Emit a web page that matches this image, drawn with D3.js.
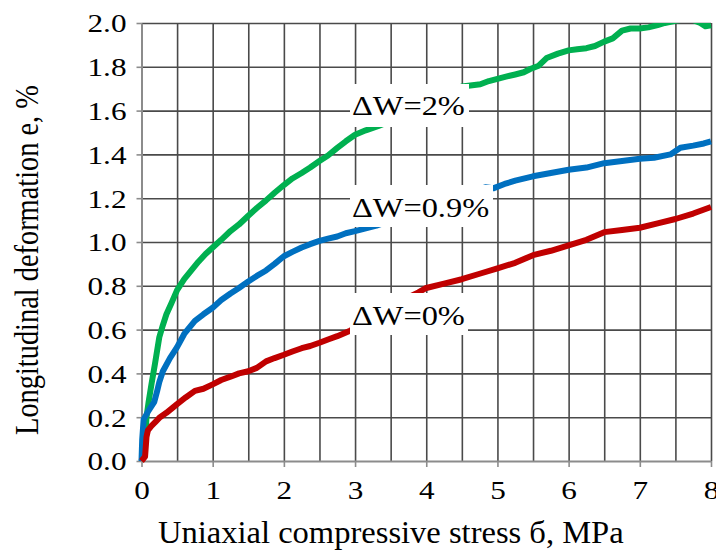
<!DOCTYPE html>
<html>
<head>
<meta charset="utf-8">
<script src="https://cdn.jsdelivr.net/npm/d3@7"></script>
</head>
<body style="margin:0">
<svg id="chart" width="716" height="550" font-family="Liberation Serif" style="display:block"></svg>
<script>
//Axis ticks
const xTicks = [0, 1, 2, 3, 4, 5, 6, 7, 8];
const yTicks = [0.0, 0.2, 0.4, 0.6, 0.8, 1.0, 1.2, 1.4, 1.6, 1.8, 2.0];
const xGridTicks = [0.5, 1, 1.5, 2, 2.5, 3, 3.5, 4, 4.5, 5, 5.5, 6, 6.5, 7, 7.5, 8];

//Curve labels
const seriesNames = ["ΔW=2%", "ΔW=0.9%", "ΔW=0%"];

//ΔW=2% (stress MPa / deformation %)
const stress2 = [0, 0.03, 0.05, 0.07, 0.1, 0.14, 0.19, 0.25, 0.3, 0.35, 0.42, 0.5, 0.6, 0.7, 0.8, 0.9, 1.0, 1.12, 1.25, 1.37, 1.5, 1.62, 1.75, 1.87, 2.0, 2.12, 2.25, 2.37, 2.5, 2.62, 2.75, 2.87, 3.0, 3.15, 3.33, 3.7, 4.0, 4.3, 4.5, 4.62, 4.76, 4.88, 5.0, 5.12, 5.25, 5.37, 5.46, 5.58, 5.69, 5.85, 6.0, 6.12, 6.25, 6.37, 6.5, 6.62, 6.75, 6.87, 7.0, 7.12, 7.25, 7.35, 7.5, 7.7, 7.85, 7.92, 8.0];
const strain2 = [0, 0.03, 0.08, 0.2, 0.27, 0.35, 0.445, 0.565, 0.62, 0.67, 0.72, 0.78, 0.83, 0.87, 0.91, 0.945, 0.975, 1.01, 1.05, 1.08, 1.12, 1.155, 1.19, 1.225, 1.26, 1.29, 1.315, 1.34, 1.37, 1.395, 1.43, 1.46, 1.49, 1.51, 1.53, 1.58, 1.63, 1.68, 1.71, 1.715, 1.72, 1.735, 1.745, 1.755, 1.765, 1.775, 1.79, 1.805, 1.84, 1.86, 1.875, 1.88, 1.885, 1.895, 1.915, 1.93, 1.965, 1.975, 1.975, 1.98, 1.99, 2.0, 2.01, 2.02, 2.0, 1.985, 1.99];

//ΔW=0.9%
const stress09 = [0, 0.01, 0.03, 0.1, 0.18, 0.22, 0.25, 0.3, 0.4, 0.5, 0.6, 0.75, 0.87, 1.0, 1.12, 1.25, 1.37, 1.5, 1.62, 1.75, 1.87, 2.0, 2.12, 2.25, 2.37, 2.5, 2.62, 2.75, 2.87, 3.0, 3.3, 3.6, 4.0, 4.4, 4.83, 4.94, 5.1, 5.25, 5.5, 5.75, 6.0, 6.25, 6.5, 6.75, 7.0, 7.2, 7.43, 7.57, 7.75, 7.9, 8.0];
const strain09 = [0, 0.1, 0.19, 0.23, 0.27, 0.32, 0.36, 0.41, 0.47, 0.52, 0.58, 0.64, 0.67, 0.70, 0.735, 0.765, 0.79, 0.82, 0.845, 0.87, 0.9, 0.935, 0.955, 0.975, 0.99, 1.005, 1.015, 1.025, 1.04, 1.05, 1.075, 1.11, 1.15, 1.2, 1.25, 1.245, 1.265, 1.28, 1.30, 1.315, 1.33, 1.34, 1.36, 1.37, 1.38, 1.385, 1.40, 1.43, 1.44, 1.45, 1.46];

//ΔW=0%
const stress0 = [0, 0.05, 0.07, 0.09, 0.14, 0.2, 0.26, 0.35, 0.5, 0.62, 0.75, 0.87, 1.0, 1.12, 1.25, 1.37, 1.5, 1.62, 1.75, 1.87, 2.0, 2.12, 2.25, 2.37, 2.5, 2.62, 2.75, 2.93, 3.2, 3.5, 3.7, 3.89, 4.0, 4.25, 4.5, 4.75, 5.0, 5.25, 5.5, 5.75, 6.0, 6.25, 6.5, 6.75, 7.0, 7.25, 7.5, 7.75, 8.0];
const strain0 = [0, 0.02, 0.11, 0.14, 0.16, 0.18, 0.2, 0.22, 0.26, 0.29, 0.32, 0.33, 0.35, 0.37, 0.385, 0.4, 0.41, 0.425, 0.455, 0.47, 0.485, 0.5, 0.515, 0.525, 0.54, 0.555, 0.57, 0.595, 0.64, 0.70, 0.74, 0.77, 0.79, 0.81, 0.83, 0.855, 0.88, 0.905, 0.94, 0.96, 0.985, 1.01, 1.045, 1.055, 1.065, 1.085, 1.105, 1.13, 1.16];

const seriesColors = ["#00b050", "#0070c0", "#c00000"];

const svg = d3.select("#chart");
const x = d3.scaleLinear().domain([0, 8]).range([141.5, 711]);
const y = d3.scaleLinear().domain([0, 2]).range([461, 23]);

//Grid
svg.append("g")
    .attr("transform", `translate(0, ${y(0)})`)
    .call(d3.axisBottom(x).tickValues(xGridTicks).tickSize(-(y(0) - y(2))).tickFormat(""))
    .call(g => g.select(".domain").remove())
    .selectAll("line").attr("stroke", "#4a4a4a").attr("stroke-width", 1.6);

svg.append("g")
    .attr("transform", `translate(${x(0)}, 0)`)
    .call(d3.axisLeft(y).tickValues(yTicks.slice(1)).tickSize(-(x(8) - x(0))).tickFormat(""))
    .call(g => g.select(".domain").remove())
    .selectAll("line").attr("stroke", "#4a4a4a").attr("stroke-width", 1.6);

//Axes (labels are widened with a transform, like the source picture)
const xAxis = svg.append("g")
    .attr("transform", `translate(0, ${y(0)})`)
    .call(d3.axisBottom(x).tickValues(xTicks).tickSize(6).tickSizeOuter(0).tickFormat(d3.format("d")))
    .attr("font-family", "Liberation Serif")
    .attr("font-size", 26);
xAxis.select(".domain").attr("stroke", "#8c8c8c").attr("stroke-width", 2);
xAxis.selectAll("line").attr("stroke", "#8c8c8c").attr("stroke-width", 1.6);
xAxis.selectAll("text")
    .attr("y", 0).attr("dy", 0)
    .attr("transform", "translate(0, 38) scale(1.2, 1)")
    .attr("fill", "#000");

const yAxis = svg.append("g")
    .attr("transform", `translate(${x(0)}, 0)`)
    .call(d3.axisLeft(y).tickValues(yTicks).tickSize(5).tickSizeOuter(0).tickFormat(d3.format(".1f")))
    .attr("font-family", "Liberation Serif")
    .attr("font-size", 26);
yAxis.select(".domain").attr("stroke", "#8c8c8c").attr("stroke-width", 2);
yAxis.selectAll("line").attr("stroke", "#8c8c8c").attr("stroke-width", 1.6);
yAxis.selectAll("text")
    .attr("x", 0).attr("dy", "0.34em")
    .attr("transform", "translate(-15, 0) scale(1.2, 1)")
    .attr("fill", "#000");

//Curves
svg.append("clipPath").attr("id", "plot-clip")
    .append("rect")
    .attr("x", x(0) - 4).attr("y", y(2))
    .attr("width", x(8) - x(0) + 8).attr("height", y(0) - y(2) + 4);

const line = d3.line()
    .x(d => x(d[0]))
    .y(d => y(d[1]));

const seriesData = [
    d3.zip(stress2, strain2),
    d3.zip(stress09, strain09),
    d3.zip(stress0, strain0)
];

svg.append("g")
    .attr("clip-path", "url(#plot-clip)")
    .selectAll("path")
    .data(seriesData)
    .enter()
    .append("path")
    .attr("d", line)
    .attr("fill", "none")
    .attr("stroke", (d, i) => seriesColors[i])
    .attr("stroke-width", 6)
    .attr("stroke-linejoin", "round")
    .attr("stroke-linecap", "butt");

//Curve labels with white boxes
const labelBoxes = [
    { x: 350, y: 84, w: 119, h: 43, base: 115 },
    { x: 350, y: 185, w: 143, h: 42, base: 217 },
    { x: 350, y: 293, w: 118, h: 42, base: 325 }
];

const labels = svg.append("g").selectAll("g")
    .data(seriesNames)
    .enter()
    .append("g");

labels.append("rect")
    .attr("x", (d, i) => labelBoxes[i].x)
    .attr("y", (d, i) => labelBoxes[i].y)
    .attr("width", (d, i) => labelBoxes[i].w)
    .attr("height", (d, i) => labelBoxes[i].h)
    .attr("fill", "#fff");

labels.append("text")
    .attr("transform", (d, i) => `translate(352, ${labelBoxes[i].base}) scale(1.2, 1)`)
    .attr("font-family", "Liberation Serif")
    .attr("font-size", 27)
    .text(d => d);

//Axis titles
const xTitle = svg.append("text")
    .attr("font-family", "Liberation Serif")
    .attr("font-size", 31)
    .text("Uniaxial compressive stress б, MPa");
const xTitleK = 466 / xTitle.node().getComputedTextLength();
xTitle.attr("transform", `translate(158, 543) scale(${xTitleK}, 1)`);

const yTitle = svg.append("text")
    .attr("text-anchor", "middle")
    .attr("font-family", "Liberation Serif")
    .attr("font-size", 28)
    .text("Longitudinal deformation e, %");
const yTitleK = 350 / yTitle.node().getComputedTextLength();
yTitle.attr("transform", `translate(38, 260) scale(1.22, ${yTitleK}) rotate(-90)`);
</script>
</body>
</html>
